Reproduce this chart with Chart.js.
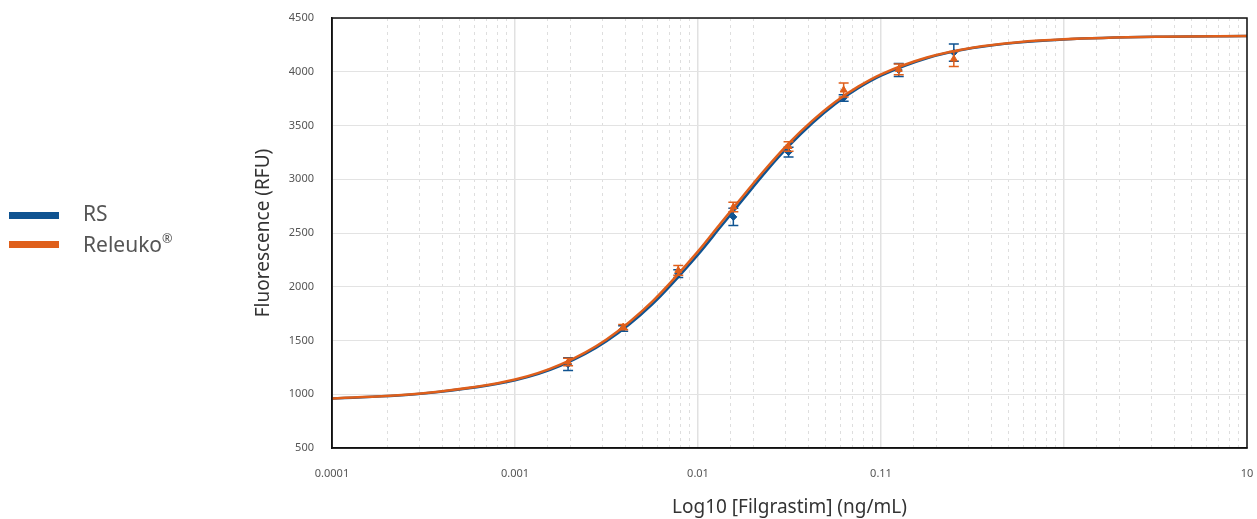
<!DOCTYPE html>
<html>
<head>
<meta charset="utf-8">
<script src="https://cdn.jsdelivr.net/npm/chart.js@4.4.1/dist/chart.umd.min.js"></script>
<style>
  html, body { margin: 0; padding: 0; background: #fff; }
  #wrap { position: relative; width: 1257px; height: 519px; }
  #chart { position: absolute; left: 0; top: 0; }
  .swatch { position: absolute; left: 9px; width: 50px; height: 7px; }
  .legend-text { position: absolute; left: 83px; font-family: 'Noto Sans', sans-serif; font-size: 21px; line-height: 21px; color: #555; white-space: nowrap; }
  .legend-text sup { font-size: 0.6em; vertical-align: 0.7em; line-height: 0; }
</style>
</head>
<body>
<div id="wrap">
  <canvas id="chart" width="1257" height="519"></canvas>
  <div class="swatch" style="top:212px; background:#0f5391;"></div>
  <div class="legend-text" style="top:203px;">RS</div>
  <div class="swatch" style="top:241px; background:#df5f1b;"></div>
  <div class="legend-text" style="top:234px;">Releuko<sup>®</sup></div>
</div>
<script>
// Measured doses (ng/mL), 2-fold dilutions
const doses = [0.00195, 0.0039, 0.0078, 0.0156, 0.03125, 0.0625, 0.125, 0.25];

// RS means and error (RFU)
const rsMean = [1280, 1612, 2122, 2650, 3253, 3756, 4016, 4178];
const rsErr = [60, 25, 35, 80, 45, 30, 60, 80];

// Releuko means and error (RFU)
const relMean = [1300, 1625, 2152, 2742, 3305, 3830, 4022, 4118];
const relErr = [35, 25, 45, 45, 45, 65, 50, 70];

// Fitted curves
const fitX = [0.0001, 0.000316, 0.001, 0.00178, 0.00316, 0.00562, 0.01, 0.0133, 0.0178, 0.0237,
              0.0316, 0.0422, 0.0562, 0.075, 0.1, 0.178, 0.316, 0.562, 1, 3.16, 10];
const rsFit = [960, 1008, 1131, 1267, 1493, 1837, 2299, 2558, 2822, 3078,
               3314, 3523, 3700, 3846, 3963, 4126, 4220, 4273, 4301, 4325, 4332];
const relFit = [960, 1009, 1137, 1278, 1510, 1862, 2329, 2590, 2854, 3107,
                3341, 3545, 3719, 3861, 3976, 4133, 4224, 4275, 4302, 4325, 4332];

// Axis labels
const xTickValues = [0.0001, 0.001, 0.01, 0.1, 10];
const xTickLabels = ['0.0001', '0.001', '0.01', '0.11', '10'];

const BLUE = '#0f5391';
const ORANGE = '#df5f1b';
const FONT = "'Noto Sans', sans-serif";

function isDecade(v) {
    const l = Math.log10(v);
    return Math.abs(l - Math.round(l)) < 1e-6;
}

function toPoints(xs, ys) {
    return xs.map((x, i) => ({ x: x, y: ys[i] }));
}

// Error bars, drawn right after their own dataset
const errorBarPlugin = {
    id: 'errorBars',
    afterDatasetDraw(chart, args) {
        const ds = chart.data.datasets[args.index];
        if (!ds.errors) return;
        const { ctx, scales: { x, y } } = chart;
        ctx.save();
        ctx.strokeStyle = ds.borderColor;
        ctx.lineWidth = 1.5;
        ds.data.forEach((p, j) => {
            const px = x.getPixelForValue(p.x);
            const top = y.getPixelForValue(p.y + ds.errors[j]);
            const bot = y.getPixelForValue(p.y - ds.errors[j]);
            ctx.beginPath();
            ctx.moveTo(px, top); ctx.lineTo(px, bot);
            ctx.moveTo(px - 5, top); ctx.lineTo(px + 5, top);
            ctx.moveTo(px - 5, bot); ctx.lineTo(px + 5, bot);
            ctx.stroke();
        });
        ctx.restore();
    }
};

// Black frame around the plot
const framePlugin = {
    id: 'frame',
    afterDraw(chart) {
        const { ctx, chartArea: a } = chart;
        ctx.save();
        ctx.strokeStyle = '#111';
        ctx.lineWidth = 1.5;
        ctx.strokeRect(a.left, a.top, a.right - a.left, a.bottom - a.top);
        ctx.restore();
    }
};

// datasets with a lower index are drawn on top, so Releuko comes first
new Chart(document.getElementById('chart').getContext('2d'), {
    type: 'scatter',
    data: {
        datasets: [
            {
                label: 'Releuko',
                data: toPoints(doses, relMean),
                errors: relErr,
                borderColor: ORANGE,
                backgroundColor: ORANGE,
                pointStyle: 'triangle',
                pointRadius: 4,
                borderWidth: 1
            },
            {
                label: 'Releuko fit',
                data: toPoints(fitX, relFit),
                showLine: true,
                borderColor: ORANGE,
                borderWidth: 2.5,
                pointRadius: 0,
                cubicInterpolationMode: 'monotone'
            },
            {
                label: 'RS',
                data: toPoints(doses, rsMean),
                errors: rsErr,
                borderColor: BLUE,
                backgroundColor: BLUE,
                pointStyle: 'rectRot',
                pointRadius: 3.5,
                borderWidth: 1
            },
            {
                label: 'RS fit',
                data: toPoints(fitX, rsFit),
                showLine: true,
                borderColor: BLUE,
                borderWidth: 2.5,
                pointRadius: 0,
                cubicInterpolationMode: 'monotone'
            }
        ]
    },
    options: {
        responsive: false,
        animation: false,
        layout: { padding: { left: 248, right: 10, top: 18, bottom: 0 } },
        plugins: {
            legend: { display: false },
            tooltip: { enabled: false }
        },
        scales: {
            x: {
                type: 'logarithmic',
                position: 'bottom',
                min: 0.0001,
                max: 10,
                grid: {
                    color: c => (c.tick && isDecade(c.tick.value)) ? '#e1e1e1' : 'rgba(0,0,0,0)',
                    lineWidth: 1.5,
                    drawTicks: false
                },
                border: { color: '#111', width: 1.5 },
                ticks: {
                    autoSkip: false,
                    maxRotation: 0,
                    padding: 19,
                    color: '#555',
                    font: { family: FONT, size: 11 },
                    callback: function(v) {
                        const i = xTickValues.findIndex(t => Math.abs(t - v) / t < 1e-6);
                        return i >= 0 ? xTickLabels[i] : '';
                    }
                },
                title: {
                    display: true,
                    text: 'Log10 [Filgrastim] (ng/mL)',
                    color: '#333',
                    font: { family: FONT, size: 19 },
                    padding: { top: 4, bottom: 0 }
                },
                afterFit: s => { s.height = 71; s.paddingLeft = 0; s.paddingRight = 0; }
            },
            xMinor: {
                type: 'logarithmic',
                position: 'top',
                min: 0.0001,
                max: 10,
                grid: {
                    color: c => (c.tick && isDecade(c.tick.value)) ? 'rgba(0,0,0,0)' : '#dedede',
                    lineWidth: 1,
                    drawTicks: false
                },
                border: { display: false, dash: [3, 4] },
                ticks: { display: false },
                afterFit: s => { s.height = 0; s.paddingLeft = 0; s.paddingRight = 0; }
            },
            y: {
                min: 500,
                max: 4500,
                grid: { color: '#e3e3e3', lineWidth: 1, drawTicks: false },
                border: { color: '#111', width: 1.5 },
                ticks: {
                    stepSize: 500,
                    padding: 18,
                    color: '#555',
                    font: { family: FONT, size: 11 },
                    callback: v => String(v)
                },
                title: {
                    display: true,
                    text: 'Fluorescence (RFU)',
                    color: '#333',
                    font: { family: FONT, size: 19 }
                },
                afterFit: s => { s.width = 84; s.paddingTop = 0; s.paddingBottom = 0; }
            }
        }
    },
    plugins: [errorBarPlugin, framePlugin]
});
</script>
</body>
</html>
